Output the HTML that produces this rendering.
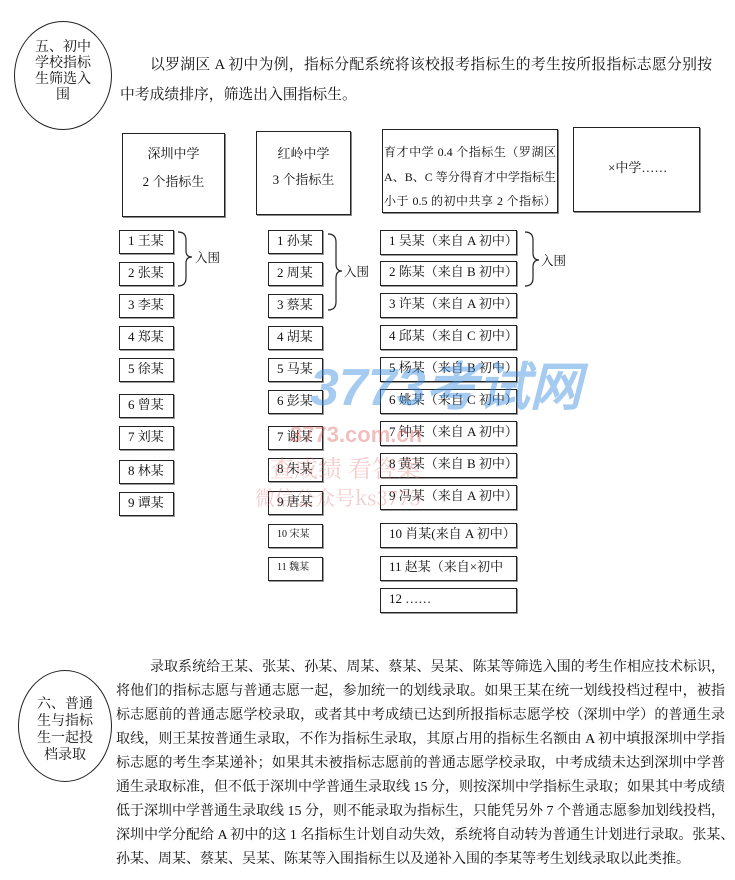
<!DOCTYPE html>
<html><head><meta charset="utf-8"><style>
body{margin:0;background:#fff;}
#c{position:relative;width:735px;height:880px;overflow:hidden;font-family:"Liberation Serif","Noto Serif CJK SC","Noto Sans CJK SC",serif;color:#111;}
.a{position:absolute;}
.b{position:absolute;border:1.5px solid #222;box-sizing:border-box;box-shadow:1px 1px 0 #888;}
.it{position:absolute;border:1.5px solid #222;box-sizing:border-box;font-size:13px;line-height:20px;padding-left:8px;white-space:nowrap;box-shadow:1px 1px 0 #999;}
.ln{position:absolute;font-size:14px;line-height:20px;white-space:nowrap;text-align:justify;text-align-last:justify;}
.cir{position:absolute;border:1.5px solid #222;border-radius:50%;box-sizing:border-box;}
.ct{position:absolute;font-size:14px;line-height:16px;text-align:center;font-family:"Liberation Serif","Noto Serif CJK SC",serif;}
</style></head><body><div id="c">
<div class="cir" style="left:14px;top:21px;width:98px;height:109px"></div>
<div class="ct" style="left:14px;top:40px;width:98px">五、初中<br>学校指标<br>生筛选入<br>围</div>
<div class="ln" style="left:150px;top:55px;width:562px;font-size:14.8px">以罗湖区 A 初中为例，指标分配系统将该校报考指标生的考生按所报指标志愿分别按</div>
<div class="ln" style="left:120px;top:85px;font-size:14.8px;text-align-last:auto">中考成绩排序，筛选出入围指标生。</div>

<div class="b" style="left:122px;top:133px;width:103px;height:84px"></div>
<div class="a" style="left:122px;top:143px;width:103px;text-align:center;font-size:13px">深圳中学</div>
<div class="a" style="left:122px;top:171px;width:103px;text-align:center;font-size:13px">2 个指标生</div>
<div class="b" style="left:256px;top:131px;width:95px;height:84px"></div>
<div class="a" style="left:256px;top:143px;width:95px;text-align:center;font-size:13px">红岭中学</div>
<div class="a" style="left:256px;top:169px;width:95px;text-align:center;font-size:13px">3 个指标生</div>
<div class="b" style="left:382px;top:129px;width:176px;height:84px"></div>
<div class="a" style="left:384px;top:140px;width:172px;font-size:12px;line-height:24.5px;text-align:justify;text-align-last:justify">育才中学 0.4 个指标生（罗湖区<br>A、B、C 等分得育才中学指标生<br>小于 0.5 的初中共享 2 个指标）</div>
<div class="b" style="left:573px;top:127px;width:127px;height:85px"></div>
<div class="a" style="left:608px;top:157px;font-size:13px">×中学……</div>

<div class="it" style="left:119px;top:230px;width:55px;height:24px">1 王某</div>
<div class="it" style="left:119px;top:262px;width:55px;height:24px">2 张某</div>
<div class="it" style="left:119px;top:294px;width:55px;height:24px">3 李某</div>
<div class="it" style="left:119px;top:326px;width:55px;height:24px">4 郑某</div>
<div class="it" style="left:119px;top:358px;width:55px;height:24px">5 徐某</div>
<div class="it" style="left:119px;top:394px;width:55px;height:24px">6 曾某</div>
<div class="it" style="left:119px;top:426px;width:55px;height:24px">7 刘某</div>
<div class="it" style="left:119px;top:460px;width:55px;height:24px">8 林某</div>
<div class="it" style="left:119px;top:492px;width:55px;height:24px">9 谭某</div>

<div class="it" style="left:268px;top:230px;width:55px;height:24px">1 孙某</div>
<div class="it" style="left:268px;top:262px;width:55px;height:24px">2 周某</div>
<div class="it" style="left:268px;top:294px;width:55px;height:24px">3 蔡某</div>
<div class="it" style="left:268px;top:326px;width:55px;height:24px">4 胡某</div>
<div class="it" style="left:268px;top:358px;width:55px;height:24px">5 马某</div>
<div class="it" style="left:268px;top:390px;width:55px;height:24px">6 彭某</div>
<div class="it" style="left:268px;top:426px;width:55px;height:24px">7 谢某</div>
<div class="it" style="left:268px;top:458px;width:55px;height:24px">8 朱某</div>
<div class="it" style="left:268px;top:491px;width:55px;height:24px">9 唐某</div>
<div class="it" style="left:268px;top:524px;width:55px;height:24px;font-size:10px">10 宋某</div>
<div class="it" style="left:268px;top:557px;width:55px;height:24px;font-size:10px">11 魏某</div>

<div class="it" style="left:380px;top:230px;width:137px;height:25px">1 吴某（来自 A 初中）</div>
<div class="it" style="left:380px;top:261px;width:137px;height:25px">2 陈某（来自 B 初中）</div>
<div class="it" style="left:380px;top:293px;width:137px;height:25px">3 许某（来自 A 初中）</div>
<div class="it" style="left:380px;top:325px;width:137px;height:25px">4 邱某（来自 C 初中）</div>
<div class="it" style="left:380px;top:357px;width:137px;height:25px">5 杨某（来自 B 初中）</div>
<div class="it" style="left:380px;top:389px;width:137px;height:25px">6 姚某（来自 C 初中）</div>
<div class="it" style="left:380px;top:421px;width:137px;height:25px">7 钟某（来自 A 初中）</div>
<div class="it" style="left:380px;top:453px;width:137px;height:25px">8 黄某（来自 B 初中）</div>
<div class="it" style="left:380px;top:485px;width:137px;height:25px">9 冯某（来自 A 初中）</div>
<div class="it" style="left:380px;top:523px;width:137px;height:25px">10 肖某(来自 A 初中）</div>
<div class="it" style="left:380px;top:556px;width:137px;height:25px">11 赵某（来自×初中</div>
<div class="it" style="left:380px;top:588px;width:137px;height:25px">12 ……</div>

<svg class="a" style="left:0;top:0" width="735" height="880">
<g fill="none" stroke="#222" stroke-width="1.2">
<path d="M178,232 Q186,232 186,240 L186,251 Q186,257 192,257 Q186,257 186,263 L186,278 Q186,286 178,286"/>
<path d="M328,234 Q336,234 336,242 L336,264 Q336,271 342,271 Q336,271 336,278 L336,302 Q336,310 328,310"/>
<path d="M525,232 Q533,232 533,240 L533,253 Q533,260 539,260 Q533,260 533,267 L533,278 Q533,286 525,286"/>
</g>
<text x="310" y="405" font-family="Liberation Sans,sans-serif" font-size="52" font-weight="bold" font-style="italic" fill="#3a8ee0" opacity="0.45">3773考试网</text>
<text x="290" y="442" font-family="Liberation Sans,sans-serif" font-size="22" font-weight="bold" fill="#e06060" opacity="0.4">3773.com.cn</text>
<text x="270" y="477" font-family="Noto Serif CJK SC,serif" font-size="24" fill="#e07070" opacity="0.35">查成绩 看答案</text>
<text x="255" y="505" font-family="Noto Serif CJK SC,serif" font-size="20" fill="#e07070" opacity="0.35">微信公众号ks3773</text>
</svg>
<div class="a" style="left:195px;top:248px;font-size:12.5px">入围</div>
<div class="a" style="left:344px;top:262px;font-size:12.5px">入围</div>
<div class="a" style="left:541px;top:251px;font-size:12.5px">入围</div>

<div class="cir" style="left:18px;top:670px;width:94px;height:112px"></div>
<div class="ct" style="left:18px;top:696px;width:94px;line-height:17px">六、普通<br>生与指标<br>生一起投<br>档录取</div>

<div class="ln" style="left:150px;top:658px;width:575px">录取系统给王某、张某、孙某、周某、蔡某、吴某、陈某等筛选入围的考生作相应技术标识，</div>
<div class="ln" style="left:116px;top:682px;width:609px">将他们的指标志愿与普通志愿一起，参加统一的划线录取。如果王某在统一划线投档过程中，被指</div>
<div class="ln" style="left:116px;top:706px;width:609px">标志愿前的普通志愿学校录取，或者其中考成绩已达到所报指标志愿学校（深圳中学）的普通生录</div>
<div class="ln" style="left:116px;top:730px;width:609px">取线，则王某按普通生录取，不作为指标生录取，其原占用的指标生名额由 A 初中填报深圳中学指</div>
<div class="ln" style="left:116px;top:754px;width:609px">标志愿的考生李某递补；如果其未被指标志愿前的普通志愿学校录取，中考成绩未达到深圳中学普</div>
<div class="ln" style="left:116px;top:778px;width:609px">通生录取标准，但不低于深圳中学普通生录取线 15 分，则按深圳中学指标生录取；如果其中考成绩</div>
<div class="ln" style="left:116px;top:802px;width:609px">低于深圳中学普通生录取线 15 分，则不能录取为指标生，只能凭另外 7 个普通志愿参加划线投档，</div>
<div class="ln" style="left:116px;top:826px;width:609px">深圳中学分配给 A 初中的这 1 名指标生计划自动失效，系统将自动转为普通生计划进行录取。张某、</div>
<div class="ln" style="left:116px;top:850px;text-align-last:auto">孙某、周某、蔡某、吴某、陈某等入围指标生以及递补入围的李某等考生划线录取以此类推。</div>
</div></body></html>
